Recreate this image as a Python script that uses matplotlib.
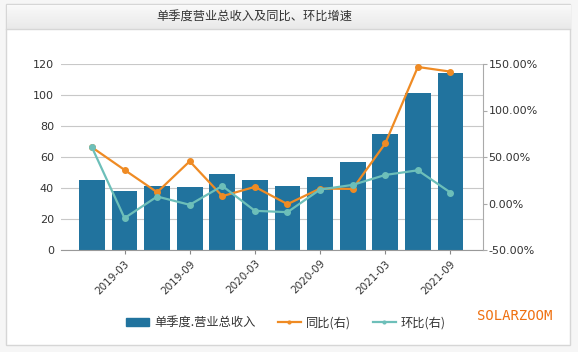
import matplotlib.pyplot as plt
from matplotlib.patches import Rectangle, Patch
from matplotlib.lines import Line2D
from matplotlib.colors import LinearSegmentedColormap
import numpy as np

plt.rcParams['font.family'] = ['Noto Sans CJK SC', 'DejaVu Sans']

# quarterly data
quarters = ["2018-12", "2019-03", "2019-06", "2019-09", "2019-12", "2020-03",
            "2020-06", "2020-09", "2020-12", "2021-03", "2021-06", "2021-09"]
revenue = [45.0, 37.9, 41.1, 40.5, 48.9, 45.0, 41.1, 46.9, 56.6, 74.6, 101.6, 114.4]
yoy = [60.4, 36.1, 12.1, 45.4, 7.9, 17.9, -0.7, 16.1, 15.7, 64.6, 146.8, 141.8]
qoq = [60.4, -15.7, 7.5, -1.4, 18.9, -7.9, -9.3, 15.0, 20.0, 30.7, 35.7, 11.8]

title = "单季度营业总收入及同比、环比增速"
bar_label = "单季度.营业总收入"
yoy_label = "同比(右)"
qoq_label = "环比(右)"

BAR = "#21739e"
ORANGE = "#ef8b24"
TEAL = "#6dbfb9"
GRID = "#c8c8c8"
W, H = 578, 352

fig = plt.figure(figsize=(W / 100, H / 100), dpi=100)
fig.patch.set_facecolor("#f6f6f6")


def fx(px):
    return px / W


def fy(py):
    return 1 - py / H


# outer panel and title bar
fig.add_artist(Rectangle((fx(6), fy(345)), fx(570) - fx(6), fy(4) - fy(345),
                         transform=fig.transFigure, facecolor="white",
                         edgecolor="#d6d6d6", linewidth=1, zorder=-2))
grad = np.linspace(0, 1, 50).reshape(-1, 1)
tax = fig.add_axes([fx(6.5), fy(29), fx(570) - fx(6.5), fy(4.5) - fy(29)], zorder=-1)
tax.imshow(grad, aspect="auto",
           cmap=LinearSegmentedColormap.from_list("g", ["#fafafa", "#e9e9e9"]),
           extent=[0, 1, 0, 1])
tax.axis("off")
fig.add_artist(Line2D([fx(6), fx(570)], [fy(29), fy(29)], color="#d6d6d6", lw=1))
fig.text(fx(254), fy(17), title, ha="center", va="center", fontsize=8.8,
         color="#333333", fontweight="medium")

ax = fig.add_axes([fx(61), fy(250), fx(483) - fx(61), fy(64) - fy(250)])
ax.patch.set_alpha(0)
x = np.arange(len(quarters))
ax.bar(x, revenue, width=0.79, color=BAR, zorder=2)
ax.set_xlim(-0.95, 12.0)
ax.set_ylim(0, 120)
ax.set_yticks(range(0, 121, 20))
ax.yaxis.grid(True, color=GRID, lw=0.8, zorder=0)
ax.set_axisbelow(True)
for s in ["top", "left", "right"]:
    ax.spines[s].set_visible(False)
ax.spines["bottom"].set_color("#999999")
ax.tick_params(axis="y", length=0, pad=5, labelsize=8, labelcolor="#333333")
ax.set_xticks(x[1::2])
ax.set_xticklabels(quarters[1::2], rotation=45, ha="right", rotation_mode="anchor",
                   fontsize=7.5, color="#333333", family="DejaVu Sans")
ax.tick_params(axis="x", length=3, color="#888888", pad=3)
for lab in ax.get_yticklabels():
    lab.set_family("DejaVu Sans")

ax2 = ax.twinx()
ax2.plot(x, yoy, color=ORANGE, lw=1.6, marker="o", markersize=4, zorder=3)
ax2.plot(x, qoq, color=TEAL, lw=1.6, marker="o", markersize=4, zorder=3)
ax2.set_ylim(-50, 150)
ax2.set_yticks(range(-50, 151, 50))
ax2.set_yticklabels([f"{v:.2f}%" for v in range(-50, 151, 50)], family="DejaVu Sans")
for s in ["top", "left", "bottom"]:
    ax2.spines[s].set_visible(False)
ax2.spines["right"].set_color("#aaaaaa")
ax2.tick_params(axis="y", length=3, color="#aaaaaa", pad=1, labelsize=8,
                labelcolor="#333333")

handles = [
    Patch(facecolor=BAR, edgecolor=BAR),
    Line2D([], [], color=ORANGE, lw=1.6, marker="o", markersize=2),
    Line2D([], [], color=TEAL, lw=1.6, marker="o", markersize=2),
]
fig.legend(handles, [bar_label, yoy_label, qoq_label], loc="center",
           bbox_to_anchor=(fx(286), fy(323)), ncol=3, frameon=False,
           fontsize=8.8, handlelength=1.9, handleheight=0.6, columnspacing=1.8,
           handletextpad=0.4, labelcolor="#333333")

fig.text(fx(477), fy(316), "SOLARZOOM", ha="left", va="center", fontsize=10,
         family="DejaVu Sans Mono", color="#ef7010")

fig.savefig("out.png", dpi=100, facecolor=fig.get_facecolor())
